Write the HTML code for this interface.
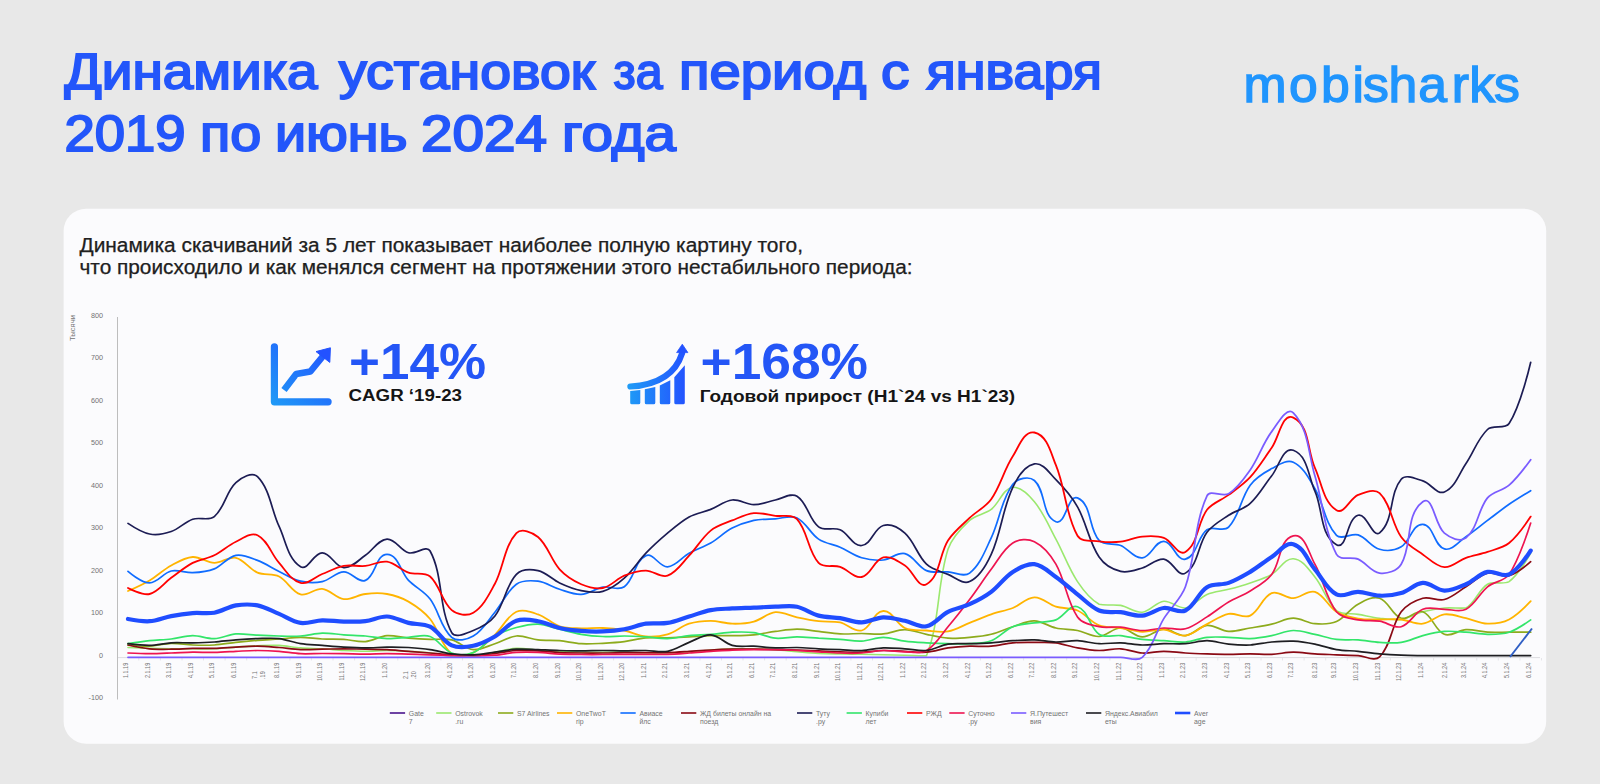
<!DOCTYPE html>
<html lang="ru"><head><meta charset="utf-8"><title>Динамика установок</title>
<style>html,body{margin:0;padding:0;background:#e8e8e8;}body{width:1600px;height:784px;overflow:hidden;}svg{display:block}text{font-family:"Liberation Sans",sans-serif}</style></head><body>
<svg width="1600" height="784" viewBox="0 0 1600 784">
<defs><linearGradient id="g1" x1="0" y1="1" x2="1" y2="0"><stop offset="0" stop-color="#1f9bf6"/><stop offset="1" stop-color="#2350ff"/></linearGradient>
<linearGradient id="g2" x1="0" y1="0" x2="1" y2="0"><stop offset="0" stop-color="#1f9bf6"/><stop offset="1" stop-color="#2350ff"/></linearGradient>
<linearGradient id="g3" gradientUnits="userSpaceOnUse" x1="1244" y1="0" x2="1518" y2="0"><stop offset="0" stop-color="#1e9af3"/><stop offset="1" stop-color="#2191fb"/></linearGradient><linearGradient id="g4" gradientUnits="userSpaceOnUse" x1="628" y1="0" x2="688" y2="0"><stop offset="0" stop-color="#1f9bf6"/><stop offset="1" stop-color="#2350ff"/></linearGradient><linearGradient id="g5" gradientUnits="userSpaceOnUse" x1="271" y1="405" x2="332" y2="344"><stop offset="0" stop-color="#1f9bf6"/><stop offset="1" stop-color="#2350ff"/></linearGradient></defs>
<rect width="1600" height="784" fill="#e8e8e8"/>
<rect x="63.6" y="208.7" width="1482.6" height="535" rx="22.5" ry="22.5" fill="#fbfbfd"/>
<g font-size="49.6" fill="#2356fa" stroke="#2356fa" stroke-width="1.9">
<text y="88.9"><tspan x="64.50" textLength="253.02" lengthAdjust="spacingAndGlyphs">Динамика</tspan> <tspan x="339.00" textLength="256.05" lengthAdjust="spacingAndGlyphs">установок</tspan> <tspan x="613.50" textLength="49.04" lengthAdjust="spacingAndGlyphs">за</tspan> <tspan x="679.00" textLength="187.24" lengthAdjust="spacingAndGlyphs">период</tspan> <tspan x="881.00" textLength="28.35" lengthAdjust="spacingAndGlyphs">с</tspan> <tspan x="926.60" textLength="175.41" lengthAdjust="spacingAndGlyphs">января</tspan></text>
<text y="151.3"><tspan x="64.50" textLength="121.09" lengthAdjust="spacingAndGlyphs">2019</tspan> <tspan x="200.00" textLength="61.24" lengthAdjust="spacingAndGlyphs">по</tspan> <tspan x="275.00" textLength="132.62" lengthAdjust="spacingAndGlyphs">июнь</tspan> <tspan x="421.00" textLength="126.02" lengthAdjust="spacingAndGlyphs">2024</tspan> <tspan x="562.00" textLength="114.04" lengthAdjust="spacingAndGlyphs">года</tspan></text>
</g>
<text transform="scale(1.0244,1)" x="1213.93 1258.32 1289.59 1320.26 1330.56 1355.40 1384.52 1417.10 1434.28 1458.54" y="102.2" font-size="50.5" fill="#2095fd" stroke="#2095fd" stroke-width="1.4">mobisharks</text>
<g font-size="19.4" fill="#202020" stroke="#202020" stroke-width="0.25">
<text x="79.5" y="251.7" textLength="723.5" lengthAdjust="spacingAndGlyphs">Динамика скачиваний за 5 лет показывает наиболее полную картину того,</text>
<text x="79.5" y="273.7" textLength="833" lengthAdjust="spacingAndGlyphs">что происходило и как менялся сегмент на протяжении этого нестабильного периода:</text></g>
<line x1="117.5" y1="317" x2="117.5" y2="699.5" stroke="#bdbdbd" stroke-width="1"/>
<line x1="118" y1="657.6" x2="1540" y2="657.6" stroke="#dcdce0" stroke-width="1"/>
<path d="M138.8,658v2.5M160.4,658v2.5M182.0,658v2.5M203.5,658v2.5M225.1,658v2.5M246.7,658v2.5M268.3,658v2.5M289.9,658v2.5M311.4,658v2.5M333.0,658v2.5M354.6,658v2.5M376.2,658v2.5M397.8,658v2.5M419.3,658v2.5M440.9,658v2.5M462.5,658v2.5M484.1,658v2.5M505.7,658v2.5M527.2,658v2.5M548.8,658v2.5M570.4,658v2.5M592.0,658v2.5M613.6,658v2.5M635.1,658v2.5M656.7,658v2.5M678.3,658v2.5M699.9,658v2.5M721.5,658v2.5M743.0,658v2.5M764.6,658v2.5M786.2,658v2.5M807.8,658v2.5M829.4,658v2.5M850.9,658v2.5M872.5,658v2.5M894.1,658v2.5M915.7,658v2.5M937.3,658v2.5M958.8,658v2.5M980.4,658v2.5M1002.0,658v2.5M1023.6,658v2.5M1045.2,658v2.5M1066.7,658v2.5M1088.3,658v2.5M1109.9,658v2.5M1131.5,658v2.5M1153.1,658v2.5M1174.6,658v2.5M1196.2,658v2.5M1217.8,658v2.5M1239.4,658v2.5M1261.0,658v2.5M1282.5,658v2.5M1304.1,658v2.5M1325.7,658v2.5M1347.3,658v2.5M1368.9,658v2.5M1390.4,658v2.5M1412.0,658v2.5M1433.6,658v2.5M1455.2,658v2.5M1476.8,658v2.5M1498.3,658v2.5M1519.9,658v2.5M1541.5,658v2.5" stroke="#e6e6ea" stroke-width="1" fill="none"/>
<g font-size="6.7" fill="#737373" text-anchor="end">
<text transform="translate(103,700.4) scale(1.08,1)">-100</text>
<text transform="translate(103,657.9) scale(1.08,1)">0</text>
<text transform="translate(103,615.4) scale(1.08,1)">100</text>
<text transform="translate(103,572.9) scale(1.08,1)">200</text>
<text transform="translate(103,530.4) scale(1.08,1)">300</text>
<text transform="translate(103,487.9) scale(1.08,1)">400</text>
<text transform="translate(103,445.4) scale(1.08,1)">500</text>
<text transform="translate(103,402.9) scale(1.08,1)">600</text>
<text transform="translate(103,360.4) scale(1.08,1)">700</text>
<text transform="translate(103,317.9) scale(1.08,1)">800</text>
</g>
<text transform="translate(74.8,341) rotate(-90)" font-size="7" fill="#737373" textLength="26" lengthAdjust="spacingAndGlyphs">Тысячи</text>
<g font-size="7.6" fill="#737373" text-anchor="end">
<text transform="translate(127.9,662.8) rotate(-90) scale(0.72,1)">1.1.19</text>
<text transform="translate(149.5,662.8) rotate(-90) scale(0.72,1)">2.1.19</text>
<text transform="translate(171.1,662.8) rotate(-90) scale(0.72,1)">3.1.19</text>
<text transform="translate(192.6,662.8) rotate(-90) scale(0.72,1)">4.1.19</text>
<text transform="translate(214.2,662.8) rotate(-90) scale(0.72,1)">5.1.19</text>
<text transform="translate(235.8,662.8) rotate(-90) scale(0.72,1)">6.1.19</text>
<text transform="translate(257.2,671.3) rotate(-90) scale(0.72,1)">7.1</text>
<text transform="translate(265.3,671.3) rotate(-90) scale(0.72,1)">.19</text>
<text transform="translate(279.0,662.8) rotate(-90) scale(0.72,1)">8.1.19</text>
<text transform="translate(300.5,662.8) rotate(-90) scale(0.72,1)">9.1.19</text>
<text transform="translate(322.1,662.8) rotate(-90) scale(0.72,1)">10.1.19</text>
<text transform="translate(343.7,662.8) rotate(-90) scale(0.72,1)">11.1.19</text>
<text transform="translate(365.3,662.8) rotate(-90) scale(0.72,1)">12.1.19</text>
<text transform="translate(386.9,662.8) rotate(-90) scale(0.72,1)">1.1.20</text>
<text transform="translate(408.2,671.3) rotate(-90) scale(0.72,1)">2.1</text>
<text transform="translate(416.3,671.3) rotate(-90) scale(0.72,1)">.20</text>
<text transform="translate(430.0,662.8) rotate(-90) scale(0.72,1)">3.1.20</text>
<text transform="translate(451.6,662.8) rotate(-90) scale(0.72,1)">4.1.20</text>
<text transform="translate(473.2,662.8) rotate(-90) scale(0.72,1)">5.1.20</text>
<text transform="translate(494.8,662.8) rotate(-90) scale(0.72,1)">6.1.20</text>
<text transform="translate(516.3,662.8) rotate(-90) scale(0.72,1)">7.1.20</text>
<text transform="translate(537.9,662.8) rotate(-90) scale(0.72,1)">8.1.20</text>
<text transform="translate(559.5,662.8) rotate(-90) scale(0.72,1)">9.1.20</text>
<text transform="translate(581.1,662.8) rotate(-90) scale(0.72,1)">10.1.20</text>
<text transform="translate(602.7,662.8) rotate(-90) scale(0.72,1)">11.1.20</text>
<text transform="translate(624.2,662.8) rotate(-90) scale(0.72,1)">12.1.20</text>
<text transform="translate(645.8,662.8) rotate(-90) scale(0.72,1)">1.1.21</text>
<text transform="translate(667.4,662.8) rotate(-90) scale(0.72,1)">2.1.21</text>
<text transform="translate(689.0,662.8) rotate(-90) scale(0.72,1)">3.1.21</text>
<text transform="translate(710.6,662.8) rotate(-90) scale(0.72,1)">4.1.21</text>
<text transform="translate(732.1,662.8) rotate(-90) scale(0.72,1)">5.1.21</text>
<text transform="translate(753.7,662.8) rotate(-90) scale(0.72,1)">6.1.21</text>
<text transform="translate(775.3,662.8) rotate(-90) scale(0.72,1)">7.1.21</text>
<text transform="translate(796.9,662.8) rotate(-90) scale(0.72,1)">8.1.21</text>
<text transform="translate(818.5,662.8) rotate(-90) scale(0.72,1)">9.1.21</text>
<text transform="translate(840.0,662.8) rotate(-90) scale(0.72,1)">10.1.21</text>
<text transform="translate(861.6,662.8) rotate(-90) scale(0.72,1)">11.1.21</text>
<text transform="translate(883.2,662.8) rotate(-90) scale(0.72,1)">12.1.21</text>
<text transform="translate(904.8,662.8) rotate(-90) scale(0.72,1)">1.1.22</text>
<text transform="translate(926.4,662.8) rotate(-90) scale(0.72,1)">2.1.22</text>
<text transform="translate(947.9,662.8) rotate(-90) scale(0.72,1)">3.1.22</text>
<text transform="translate(969.5,662.8) rotate(-90) scale(0.72,1)">4.1.22</text>
<text transform="translate(991.1,662.8) rotate(-90) scale(0.72,1)">5.1.22</text>
<text transform="translate(1012.7,662.8) rotate(-90) scale(0.72,1)">6.1.22</text>
<text transform="translate(1034.3,662.8) rotate(-90) scale(0.72,1)">7.1.22</text>
<text transform="translate(1055.8,662.8) rotate(-90) scale(0.72,1)">8.1.22</text>
<text transform="translate(1077.4,662.8) rotate(-90) scale(0.72,1)">9.1.22</text>
<text transform="translate(1099.0,662.8) rotate(-90) scale(0.72,1)">10.1.22</text>
<text transform="translate(1120.6,662.8) rotate(-90) scale(0.72,1)">11.1.22</text>
<text transform="translate(1142.2,662.8) rotate(-90) scale(0.72,1)">12.1.22</text>
<text transform="translate(1163.7,662.8) rotate(-90) scale(0.72,1)">1.1.23</text>
<text transform="translate(1185.3,662.8) rotate(-90) scale(0.72,1)">2.1.23</text>
<text transform="translate(1206.9,662.8) rotate(-90) scale(0.72,1)">3.1.23</text>
<text transform="translate(1228.5,662.8) rotate(-90) scale(0.72,1)">4.1.23</text>
<text transform="translate(1250.1,662.8) rotate(-90) scale(0.72,1)">5.1.23</text>
<text transform="translate(1271.6,662.8) rotate(-90) scale(0.72,1)">6.1.23</text>
<text transform="translate(1293.2,662.8) rotate(-90) scale(0.72,1)">7.1.23</text>
<text transform="translate(1317.3,662.8) rotate(-90) scale(0.72,1)">8.1.23</text>
<text transform="translate(1336.4,662.8) rotate(-90) scale(0.72,1)">9.1.23</text>
<text transform="translate(1358.0,662.8) rotate(-90) scale(0.72,1)">10.1.23</text>
<text transform="translate(1379.5,662.8) rotate(-90) scale(0.72,1)">11.1.23</text>
<text transform="translate(1401.1,662.8) rotate(-90) scale(0.72,1)">12.1.23</text>
<text transform="translate(1422.7,662.8) rotate(-90) scale(0.72,1)">1.1.24</text>
<text transform="translate(1447.3,662.8) rotate(-90) scale(0.72,1)">2.1.24</text>
<text transform="translate(1465.9,662.8) rotate(-90) scale(0.72,1)">3.1.24</text>
<text transform="translate(1487.4,662.8) rotate(-90) scale(0.72,1)">4.1.24</text>
<text transform="translate(1509.0,662.8) rotate(-90) scale(0.72,1)">5.1.24</text>
<text transform="translate(1530.6,662.8) rotate(-90) scale(0.72,1)">6.1.24</text>
</g>
<g fill="none" stroke-linecap="round" stroke-linejoin="round">
<path d="M128.0,647.5 C128.0,647.5 142.4,648.2 149.6,648.4 C156.8,648.6 164.0,648.7 171.2,648.8 C178.4,648.9 185.5,648.8 192.7,648.8 C199.9,648.8 207.1,649.1 214.3,648.8 C221.5,648.5 228.7,647.6 235.9,647.1 C243.1,646.6 250.3,646.1 257.5,645.8 C264.7,645.5 271.9,645.0 279.1,645.4 C286.3,645.8 293.4,647.4 300.6,647.9 C307.8,648.5 315.0,648.4 322.2,648.8 C329.4,649.2 336.6,650.1 343.8,650.5 C351.0,650.9 358.2,651.3 365.4,651.3 C372.6,651.3 379.8,650.5 387.0,650.5 C394.2,650.5 401.4,650.9 408.5,651.3 C415.7,651.8 423.0,652.2 430.1,653.0 C437.4,653.9 444.4,655.8 451.7,656.4 C458.9,657.1 466.1,657.5 473.3,656.9 C480.6,656.2 487.6,653.6 494.9,652.2 C502.0,650.8 509.1,648.7 516.4,648.4 C523.6,648.0 530.8,649.6 538.0,650.1 C545.2,650.6 552.4,651.0 559.6,651.3 C566.8,651.7 574.0,652.1 581.2,652.2 C588.4,652.3 595.6,652.2 602.8,652.2 C610.0,652.2 617.1,652.1 624.3,652.2 C631.5,652.3 638.7,652.9 645.9,653.0 C653.1,653.2 660.3,653.2 667.5,653.0 C674.7,652.9 681.9,652.7 689.1,652.2 C696.3,651.7 703.5,650.6 710.7,650.1 C717.8,649.5 725.0,649.0 732.2,648.8 C739.4,648.6 746.6,648.7 753.8,648.8 C761.0,648.9 768.2,649.2 775.4,649.6 C782.6,650.1 789.8,651.1 797.0,651.8 C804.2,652.4 811.4,653.1 818.6,653.5 C825.7,653.8 832.9,653.8 840.1,653.9 C847.3,654.0 854.5,654.2 861.7,654.3 C868.9,654.5 876.1,654.6 883.3,654.8 C890.5,654.9 897.7,655.0 904.9,655.2 C912.1,655.3 923.7,656.2 926.5,655.6 C940.1,622.1 937.0,583.8 948.0,549.3 C951.7,537.9 960.8,528.6 969.6,520.4 C975.6,515.0 984.8,514.3 991.2,509.4 C999.4,503.1 1002.6,489.1 1012.8,487.3 C1021.3,486.7 1028.8,495.1 1034.4,501.8 C1043.6,512.8 1049.1,526.5 1055.9,539.1 C1063.5,553.1 1068.7,568.4 1077.5,581.6 C1083.3,590.3 1090.0,599.2 1099.1,604.2 C1105.4,606.0 1113.6,604.1 1120.7,605.4 C1128.1,606.8 1134.8,612.9 1142.3,612.2 C1150.3,611.5 1155.8,602.0 1163.8,601.2 C1171.3,600.6 1178.0,608.6 1185.4,608.0 C1193.8,606.7 1199.2,597.8 1207.0,594.4 C1213.8,591.5 1221.4,591.2 1228.6,589.3 C1235.8,587.4 1243.1,585.4 1250.2,582.9 C1257.5,580.4 1265.0,578.2 1271.7,574.4 C1279.5,570.1 1284.4,558.2 1293.3,558.7 C1302.7,559.3 1308.9,569.7 1314.9,577.0 C1323.4,587.2 1326.4,601.8 1336.5,610.5 C1342.0,615.0 1350.9,613.1 1358.1,614.4 C1365.3,615.6 1372.4,617.3 1379.6,618.2 C1386.8,619.0 1394.1,620.1 1401.2,619.5 C1408.8,618.4 1415.4,613.8 1422.8,611.8 C1429.9,609.9 1437.1,608.6 1444.4,608.0 C1451.5,607.4 1459.7,608.6 1466.0,608.0 C1475.3,602.8 1478.4,589.8 1487.5,584.2 C1493.7,581.0 1503.2,584.8 1509.1,581.6 C1518.8,574.7 1530.7,553.2 1530.7,553.2" stroke="#9be86e" stroke-width="1.6"/>
<path d="M128.0,645.0 C128.0,645.0 142.4,646.5 149.6,646.2 C156.8,646.0 163.9,643.5 171.2,643.3 C178.4,643.1 185.5,644.7 192.7,645.0 C199.9,645.3 207.1,645.4 214.3,645.0 C221.6,644.5 228.7,643.2 235.9,642.4 C243.1,641.6 250.3,640.9 257.5,640.3 C264.7,639.7 271.9,639.5 279.1,639.0 C286.3,638.5 293.4,637.3 300.6,637.3 C307.9,637.3 315.0,638.7 322.2,639.0 C329.4,639.4 336.6,639.0 343.8,639.4 C351.0,639.9 358.2,642.2 365.4,641.6 C372.8,640.9 379.5,636.2 387.0,635.6 C394.2,635.1 401.3,637.5 408.5,638.2 C415.7,638.8 422.9,639.2 430.1,639.4 C437.3,639.7 444.7,638.2 451.7,639.9 C459.4,641.7 465.4,649.0 473.3,649.6 C480.7,650.3 487.7,645.9 494.9,643.7 C502.1,641.4 508.8,636.7 516.4,636.0 C523.7,635.4 530.8,639.1 538.0,639.9 C545.2,640.7 552.4,640.1 559.6,640.7 C566.8,641.4 573.9,643.3 581.2,643.7 C588.4,644.1 595.6,643.6 602.8,643.3 C610.0,642.9 617.2,642.5 624.3,641.6 C631.6,640.6 638.6,638.4 645.9,637.8 C653.1,637.1 660.3,637.9 667.5,637.8 C674.7,637.6 681.9,637.3 689.1,636.9 C696.3,636.5 703.5,635.8 710.7,635.6 C717.9,635.4 725.0,635.8 732.2,635.6 C739.4,635.5 746.7,635.5 753.8,634.8 C761.1,634.1 768.2,632.3 775.4,631.4 C782.6,630.5 789.8,629.2 797.0,629.2 C804.2,629.2 811.4,630.6 818.6,631.4 C825.8,632.2 832.9,633.6 840.1,633.9 C847.3,634.3 854.5,633.5 861.7,633.5 C868.9,633.5 876.1,634.6 883.3,633.9 C890.6,633.3 897.5,629.6 904.9,629.7 C912.2,629.7 919.2,632.9 926.5,634.3 C933.6,635.8 940.8,637.7 948.0,638.2 C955.2,638.7 962.4,638.0 969.6,637.3 C976.9,636.7 984.1,636.1 991.2,634.3 C998.6,632.5 1005.5,629.0 1012.8,626.7 C1019.9,624.5 1026.9,620.5 1034.4,620.8 C1041.9,621.0 1048.5,626.3 1055.9,628.0 C1063.0,629.6 1070.4,629.1 1077.5,630.5 C1084.8,632.0 1091.7,636.9 1099.1,636.5 C1106.8,636.0 1112.9,627.9 1120.7,628.0 C1128.5,628.1 1134.5,636.7 1142.3,636.9 C1149.9,637.1 1156.2,629.5 1163.8,629.2 C1171.3,629.0 1177.9,636.3 1185.4,635.6 C1193.3,634.9 1199.1,626.2 1207.0,625.4 C1214.4,624.7 1221.1,630.9 1228.6,631.4 C1235.8,631.8 1243.0,629.2 1250.2,628.0 C1257.4,626.8 1264.6,625.8 1271.7,624.1 C1279.0,622.5 1285.9,618.3 1293.3,618.2 C1300.7,618.1 1307.5,623.1 1314.9,623.7 C1322.1,624.3 1329.9,624.6 1336.5,621.6 C1344.9,617.8 1349.9,608.6 1358.1,604.2 C1364.6,600.6 1372.5,595.9 1379.6,598.2 C1389.0,601.3 1391.9,615.3 1401.2,618.2 C1408.4,620.5 1415.8,609.2 1422.8,611.8 C1432.5,615.5 1434.8,630.4 1444.4,634.3 C1451.2,637.2 1458.6,630.0 1466.0,629.7 C1473.2,629.3 1480.3,631.8 1487.5,632.2 C1494.7,632.6 1501.9,632.2 1509.1,632.2 C1516.3,632.2 1530.7,632.2 1530.7,632.2" stroke="#8dab1c" stroke-width="1.7"/>
<path d="M128.0,591.0 C128.0,591.0 142.7,584.5 149.6,580.4 C157.1,575.9 163.5,569.7 171.2,565.5 C178.0,561.8 185.0,557.5 192.7,557.0 C200.2,556.6 206.9,562.8 214.3,562.9 C221.7,563.1 228.7,556.2 235.9,557.8 C244.4,559.8 249.5,569.3 257.5,572.7 C264.2,575.6 272.5,573.3 279.1,576.5 C287.4,580.7 291.7,591.8 300.6,594.4 C307.8,596.4 314.8,588.1 322.2,588.9 C330.1,589.7 335.9,598.1 343.8,599.1 C351.1,599.9 358.0,594.8 365.4,594.0 C372.5,593.1 379.9,592.7 387.0,594.0 C394.5,595.3 401.9,597.8 408.5,601.6 C416.5,606.3 424.2,611.9 430.1,619.0 C438.8,629.6 440.9,645.5 451.7,653.9 C457.4,658.3 466.7,655.5 473.3,652.6 C481.8,648.8 488.1,641.2 494.9,634.8 C502.5,627.6 506.9,616.3 516.4,611.8 C523.0,608.7 531.2,612.1 538.0,614.4 C545.8,617.0 551.8,623.7 559.6,626.3 C566.5,628.5 574.0,628.1 581.2,628.4 C588.4,628.7 595.6,627.6 602.8,628.0 C610.0,628.3 617.2,629.1 624.3,630.5 C631.7,632.0 638.5,635.8 645.9,636.5 C653.1,637.1 660.6,636.4 667.5,634.3 C675.2,632.1 681.4,626.1 689.1,623.7 C696.0,621.5 703.4,620.8 710.7,620.8 C717.9,620.8 725.0,623.6 732.2,623.7 C739.5,623.9 746.8,623.5 753.8,621.6 C761.4,619.6 767.6,613.0 775.4,612.2 C782.8,611.5 789.7,615.9 797.0,617.3 C804.1,618.8 811.3,620.3 818.6,621.2 C825.7,622.0 833.1,620.9 840.1,622.4 C847.6,624.1 854.3,632.5 861.7,630.5 C871.1,628.0 873.6,611.5 883.3,611.0 C892.4,610.4 896.5,624.2 904.9,628.0 C911.5,631.0 919.2,630.0 926.5,630.5 C933.6,631.1 941.0,632.6 948.0,631.4 C955.7,630.0 962.4,625.7 969.6,622.9 C976.8,620.0 983.9,616.9 991.2,614.4 C998.3,611.9 1005.8,610.7 1012.8,608.0 C1020.2,605.1 1026.3,597.6 1034.4,597.4 C1042.2,597.1 1048.4,604.4 1055.9,606.7 C1062.9,608.9 1070.8,607.6 1077.5,610.5 C1085.5,614.0 1091.0,622.2 1099.1,625.4 C1105.8,628.1 1113.5,626.9 1120.7,628.0 C1127.9,629.0 1135.0,631.5 1142.3,631.8 C1149.5,632.1 1156.6,629.0 1163.8,629.7 C1171.3,630.3 1178.0,636.6 1185.4,635.6 C1193.5,634.6 1199.7,627.8 1207.0,624.1 C1214.1,620.6 1220.8,615.5 1228.6,613.9 C1235.7,612.6 1243.7,618.8 1250.2,615.6 C1259.5,611.1 1262.1,597.0 1271.7,593.1 C1278.6,590.4 1285.9,598.4 1293.3,598.2 C1300.8,598.0 1307.7,589.6 1314.9,591.8 C1324.2,594.8 1328.2,606.7 1336.5,611.8 C1342.9,615.8 1350.6,617.3 1358.1,618.6 C1365.1,619.9 1372.4,619.3 1379.6,619.5 C1386.8,619.6 1394.1,618.8 1401.2,619.5 C1408.5,620.2 1415.5,624.6 1422.8,623.7 C1430.6,622.8 1436.6,615.4 1444.4,614.4 C1451.6,613.4 1458.8,616.7 1466.0,618.2 C1473.2,619.8 1480.1,623.5 1487.5,623.7 C1494.9,623.9 1502.6,622.9 1509.1,619.5 C1517.5,615.1 1530.7,601.2 1530.7,601.2" stroke="#ffb400" stroke-width="1.8"/>
<path d="M128.0,571.4 C128.0,571.4 141.4,583.0 149.6,582.9 C157.8,582.8 163.2,572.9 171.2,571.0 C178.2,569.4 185.5,573.1 192.7,572.7 C200.0,572.4 207.5,571.6 214.3,568.9 C222.2,565.7 227.6,556.9 235.9,555.3 C243.2,553.9 250.6,557.8 257.5,560.4 C265.0,563.2 271.8,567.9 279.1,571.4 C286.2,574.9 293.0,579.4 300.6,581.2 C307.6,582.9 315.2,583.2 322.2,581.6 C329.9,580.0 335.9,572.1 343.8,571.9 C351.5,571.6 358.2,583.3 365.4,580.4 C375.8,576.2 375.7,554.4 387.0,554.4 C398.2,554.4 400.7,572.3 408.5,580.4 C415.2,587.2 424.4,591.5 430.1,599.1 C439.0,610.7 440.6,627.8 451.7,637.3 C457.2,642.0 467.0,639.7 473.3,636.0 C482.5,630.7 488.0,620.5 494.9,612.2 C502.4,603.2 506.9,591.1 516.4,584.2 C522.3,580.0 530.8,580.4 538.0,581.2 C545.6,582.1 552.3,587.1 559.6,589.3 C566.7,591.5 573.8,594.8 581.2,594.4 C588.8,594.0 595.3,588.5 602.8,587.2 C609.8,585.9 618.5,591.0 624.3,586.8 C634.5,579.3 634.5,561.0 645.9,555.7 C653.3,552.3 659.4,567.3 667.5,566.8 C676.0,566.3 681.6,557.3 689.1,553.2 C696.0,549.3 703.8,547.0 710.7,543.0 C718.2,538.6 724.5,532.1 732.2,528.1 C739.0,524.6 746.4,522.1 753.8,520.4 C760.9,518.9 768.2,519.2 775.4,518.8 C782.6,518.3 790.5,514.8 797.0,517.9 C806.1,522.2 810.2,533.5 818.6,539.1 C824.9,543.5 833.1,544.2 840.1,547.2 C847.5,550.4 854.0,555.6 861.7,557.8 C868.7,559.9 876.1,560.7 883.3,560.0 C890.8,559.2 897.6,551.8 904.9,553.6 C913.8,555.8 918.0,567.0 926.5,570.6 C933.1,573.4 940.8,571.4 948.0,571.9 C955.2,572.3 964.0,577.6 969.6,573.1 C980.4,564.6 985.2,550.3 991.2,537.9 C999.6,520.6 1001.2,499.7 1012.8,484.3 C1017.2,478.5 1028.8,475.7 1034.4,480.5 C1046.1,490.7 1041.6,515.9 1055.9,521.7 C1065.9,525.7 1067.7,493.7 1077.5,497.9 C1092.1,504.2 1088.4,528.7 1099.1,540.4 C1104.1,545.9 1113.8,542.8 1120.7,545.5 C1128.4,548.6 1134.0,558.7 1142.3,557.8 C1151.3,557.0 1154.8,541.0 1163.8,541.3 C1173.2,541.6 1176.4,561.5 1185.4,559.1 C1197.1,556.0 1197.2,537.0 1207.0,529.8 C1212.8,525.5 1223.5,532.5 1228.6,527.2 C1239.5,515.9 1240.8,497.9 1250.2,485.2 C1255.5,477.9 1263.7,472.9 1271.7,468.6 C1278.4,465.1 1286.5,459.1 1293.3,462.2 C1303.6,467.0 1309.1,478.8 1314.9,488.6 C1323.6,503.4 1324.8,522.8 1336.5,535.3 C1341.4,540.6 1351.2,532.7 1358.1,534.9 C1366.3,537.6 1371.3,547.0 1379.6,549.3 C1386.6,551.3 1395.0,550.4 1401.2,546.8 C1410.2,541.6 1412.4,523.8 1422.8,524.3 C1433.7,524.8 1433.9,545.9 1444.4,548.9 C1452.3,551.2 1459.0,541.2 1466.0,536.6 C1473.5,531.7 1480.3,525.8 1487.5,520.4 C1494.7,515.1 1501.7,509.4 1509.1,504.3 C1516.1,499.5 1530.7,490.7 1530.7,490.7" stroke="#0f6cff" stroke-width="1.7"/>
<path d="M128.0,645.0 C128.0,645.0 142.3,648.1 149.6,648.8 C156.7,649.5 164.0,649.3 171.2,649.2 C178.4,649.2 185.5,648.5 192.7,648.4 C199.9,648.2 207.1,648.6 214.3,648.4 C221.5,648.2 228.7,647.5 235.9,647.1 C243.1,646.7 250.3,646.2 257.5,646.2 C264.7,646.3 271.9,647.0 279.1,647.5 C286.3,648.1 293.4,649.4 300.6,649.6 C307.8,649.9 315.0,649.4 322.2,649.2 C329.4,649.1 336.6,648.8 343.8,648.8 C351.0,648.8 358.2,649.1 365.4,649.2 C372.6,649.4 379.8,649.3 387.0,649.6 C394.2,650.0 401.3,650.8 408.5,651.3 C415.7,651.9 422.9,652.5 430.1,653.0 C437.3,653.6 444.5,654.4 451.7,654.8 C458.9,655.1 466.1,655.4 473.3,655.2 C480.5,655.0 487.7,654.3 494.9,653.5 C502.1,652.7 509.2,650.9 516.4,650.5 C523.6,650.1 530.8,650.6 538.0,650.9 C545.2,651.3 552.4,652.3 559.6,652.6 C566.8,653.0 574.0,653.0 581.2,653.0 C588.4,653.1 595.6,653.1 602.8,653.0 C610.0,653.0 617.1,652.7 624.3,652.6 C631.5,652.6 638.7,652.6 645.9,652.6 C653.1,652.6 660.3,652.8 667.5,652.6 C674.7,652.4 681.9,651.8 689.1,651.3 C696.3,650.9 703.5,650.4 710.7,650.1 C717.9,649.7 725.0,649.4 732.2,649.2 C739.4,649.1 746.6,649.2 753.8,649.2 C761.0,649.3 768.2,649.5 775.4,649.6 C782.6,649.8 789.8,649.9 797.0,650.1 C804.2,650.3 811.4,650.6 818.6,650.9 C825.8,651.2 832.9,651.6 840.1,651.8 C847.3,652.0 854.5,652.4 861.7,652.2 C868.9,652.0 876.1,650.6 883.3,650.5 C890.5,650.4 897.7,651.1 904.9,651.3 C912.1,651.6 919.3,652.8 926.5,652.2 C933.8,651.6 940.8,649.0 948.0,647.9 C955.2,647.0 962.4,646.5 969.6,646.2 C976.8,646.0 984.0,646.8 991.2,646.2 C998.5,645.7 1005.5,643.5 1012.8,642.8 C1019.9,642.2 1027.2,642.4 1034.4,642.4 C1041.6,642.4 1048.8,641.9 1055.9,642.8 C1063.3,643.8 1070.2,646.7 1077.5,647.9 C1084.7,649.2 1091.9,650.4 1099.1,650.5 C1106.3,650.6 1113.5,648.4 1120.7,648.8 C1128.0,649.2 1134.9,652.6 1142.3,653.0 C1149.5,653.5 1156.6,651.3 1163.8,651.3 C1171.1,651.3 1178.2,652.6 1185.4,653.0 C1192.6,653.5 1199.8,653.7 1207.0,653.9 C1214.2,654.1 1221.4,654.3 1228.6,654.3 C1235.8,654.3 1243.0,653.9 1250.2,653.9 C1257.4,653.9 1264.6,654.6 1271.7,654.3 C1279.0,654.0 1286.1,652.3 1293.3,652.2 C1300.5,652.1 1307.7,653.5 1314.9,653.9 C1322.1,654.3 1329.3,654.5 1336.5,654.8 C1343.7,655.0 1350.9,655.2 1358.1,655.6 C1365.3,656.0 1374.6,662.0 1379.6,656.9 C1391.3,645.0 1391.4,625.2 1401.2,611.8 C1406.3,605.0 1414.6,600.6 1422.8,598.2 C1429.7,596.2 1437.4,601.4 1444.4,599.5 C1452.5,597.4 1458.8,591.1 1466.0,586.8 C1473.2,582.3 1479.3,575.3 1487.5,573.1 C1494.6,571.4 1502.1,577.6 1509.1,575.7 C1517.4,573.5 1530.7,561.7 1530.7,561.7" stroke="#8a0a14" stroke-width="1.7"/>
<path d="M128.0,523.4 C128.0,523.4 141.7,532.6 149.6,534.0 C156.7,535.4 164.3,533.9 171.2,531.5 C179.0,528.8 184.9,521.9 192.7,519.2 C199.6,516.8 208.8,521.3 214.3,516.6 C224.6,508.0 226.0,491.7 235.9,482.6 C241.4,477.6 252.2,471.4 257.5,476.7 C270.2,489.5 271.3,510.1 279.1,526.4 C285.7,540.2 287.6,558.8 300.6,566.8 C308.0,571.2 313.6,552.6 322.2,552.8 C331.0,552.9 335.1,567.1 343.8,567.6 C352.1,568.1 358.5,559.9 365.4,555.3 C372.9,550.4 378.0,539.7 387.0,539.1 C395.4,538.6 400.3,550.5 408.5,552.8 C415.5,554.7 426.7,544.7 430.1,551.0 C443.5,575.8 438.3,607.9 451.7,632.6 C455.1,639.0 466.5,633.1 473.3,630.5 C481.4,627.4 489.6,622.9 494.9,616.1 C504.4,603.7 505.7,585.8 516.4,574.4 C521.5,569.1 530.9,569.2 538.0,570.6 C546.1,572.2 552.1,579.4 559.6,582.9 C566.5,586.1 573.7,589.1 581.2,590.6 C588.2,592.0 595.8,593.4 602.8,591.4 C610.9,589.1 618.0,583.8 624.3,578.2 C632.6,570.9 638.3,561.1 645.9,553.2 C652.7,546.1 660.0,539.5 667.5,533.2 C674.4,527.4 681.2,521.4 689.1,517.0 C695.8,513.4 703.6,512.2 710.7,509.4 C718.0,506.5 724.4,500.9 732.2,500.0 C739.6,499.3 746.5,504.7 753.8,504.7 C761.2,504.7 768.2,501.5 775.4,500.0 C782.6,498.6 790.8,492.4 797.0,496.2 C807.6,502.8 808.7,519.2 818.6,526.8 C824.3,531.3 833.5,526.9 840.1,529.8 C848.3,533.3 852.9,546.4 861.7,545.5 C871.5,544.6 873.9,528.2 883.3,525.5 C890.6,523.5 899.2,528.1 904.9,533.2 C914.3,541.6 917.4,555.5 926.5,564.2 C932.2,569.7 940.7,571.4 948.0,574.4 C955.1,577.3 962.7,584.8 969.6,581.6 C980.1,576.8 986.4,565.0 991.2,554.4 C1001.0,533.1 1002.7,508.5 1012.8,487.3 C1017.3,477.7 1023.9,465.8 1034.4,463.9 C1043.1,462.4 1049.6,473.4 1055.9,479.6 C1064.1,487.8 1071.9,496.7 1077.5,506.8 C1086.4,522.7 1089.0,541.9 1099.1,557.0 C1103.9,564.2 1112.3,569.3 1120.7,571.4 C1127.7,573.3 1135.3,570.0 1142.3,568.0 C1149.7,565.9 1156.1,558.2 1163.8,559.1 C1172.4,560.1 1178.1,577.7 1185.4,573.1 C1198.5,565.0 1197.8,544.7 1207.0,532.3 C1212.5,525.0 1221.0,520.4 1228.6,515.3 C1235.4,510.8 1244.1,509.0 1250.2,503.4 C1258.8,495.6 1264.4,484.9 1271.7,475.8 C1278.8,467.2 1282.8,446.6 1293.3,450.3 C1307.8,455.5 1308.5,477.1 1314.9,491.1 C1322.9,508.6 1319.7,535.3 1336.5,544.7 C1347.1,550.6 1346.4,518.6 1358.1,515.3 C1367.0,512.9 1372.6,538.7 1379.6,532.8 C1394.4,520.4 1388.9,494.0 1401.2,479.2 C1405.8,473.7 1415.9,478.9 1422.8,480.9 C1430.6,483.2 1436.9,495.0 1444.4,492.0 C1455.4,487.5 1459.2,473.3 1466.0,463.5 C1473.6,452.5 1477.7,438.6 1487.5,429.5 C1493.0,424.4 1505.1,429.8 1509.1,423.5 C1520.8,405.4 1530.7,362.3 1530.7,362.3" stroke="#1c1c54" stroke-width="1.7"/>
<path d="M128.0,643.7 C128.0,643.7 142.4,641.5 149.6,640.7 C156.8,639.9 164.0,639.9 171.2,639.0 C178.4,638.2 185.5,635.7 192.7,635.6 C200.0,635.6 207.1,638.9 214.3,638.6 C221.7,638.3 228.6,634.5 235.9,633.9 C243.1,633.4 250.3,634.8 257.5,635.2 C264.7,635.6 271.9,635.9 279.1,636.0 C286.3,636.2 293.5,636.5 300.6,636.0 C307.9,635.6 315.0,633.3 322.2,633.1 C329.4,632.9 336.6,634.3 343.8,634.8 C351.0,635.3 358.2,635.4 365.4,636.0 C372.6,636.7 379.7,638.4 387.0,638.6 C394.2,638.8 401.3,637.7 408.5,637.3 C415.7,637.0 423.4,634.0 430.1,636.5 C438.6,639.6 443.2,649.9 451.7,653.0 C458.4,655.6 466.6,655.3 473.3,652.6 C481.7,649.3 487.0,640.6 494.9,636.0 C501.5,632.2 509.0,629.6 516.4,627.5 C523.5,625.6 530.7,623.9 538.0,624.1 C545.4,624.4 552.4,627.6 559.6,629.2 C566.8,631.0 573.9,633.1 581.2,634.3 C588.3,635.5 595.5,636.2 602.8,636.5 C609.9,636.8 617.1,636.0 624.3,636.0 C631.5,636.1 638.7,636.5 645.9,636.9 C653.1,637.3 660.3,638.8 667.5,638.6 C674.8,638.4 681.9,636.3 689.1,635.6 C696.3,634.9 703.5,634.9 710.7,634.3 C717.9,633.8 725.0,632.5 732.2,632.2 C739.4,631.9 746.7,631.7 753.8,632.6 C761.2,633.7 768.0,637.4 775.4,638.2 C782.6,638.9 789.8,636.9 797.0,636.9 C804.2,636.9 811.4,637.8 818.6,638.2 C825.8,638.6 833.0,639.0 840.1,639.4 C847.3,639.9 854.5,641.5 861.7,641.1 C869.0,640.8 876.0,637.3 883.3,637.3 C890.6,637.3 897.6,640.2 904.9,641.1 C912.0,642.1 919.3,642.4 926.5,642.8 C933.6,643.3 940.8,643.6 948.0,643.7 C955.2,643.8 962.4,644.2 969.6,643.7 C976.9,643.2 984.4,643.4 991.2,640.7 C999.2,637.6 1004.9,630.0 1012.8,626.7 C1019.5,623.9 1027.1,624.0 1034.4,622.9 C1041.5,621.7 1049.1,622.4 1055.9,619.9 C1063.8,616.9 1069.5,604.0 1077.5,606.7 C1088.6,610.4 1089.4,627.8 1099.1,634.3 C1105.1,638.4 1113.5,634.8 1120.7,635.6 C1127.9,636.5 1135.0,638.6 1142.3,639.4 C1149.4,640.3 1156.6,640.3 1163.8,640.7 C1171.0,641.1 1178.2,642.6 1185.4,642.0 C1192.8,641.4 1199.7,638.1 1207.0,637.3 C1214.2,636.6 1221.4,637.1 1228.6,637.3 C1235.8,637.5 1243.0,638.9 1250.2,638.6 C1257.4,638.3 1264.6,637.0 1271.7,635.6 C1279.0,634.3 1285.9,630.7 1293.3,630.5 C1300.6,630.3 1307.7,632.9 1314.9,634.3 C1322.1,635.8 1329.1,638.5 1336.5,639.4 C1343.6,640.4 1350.9,639.4 1358.1,639.9 C1365.3,640.4 1372.4,642.0 1379.6,642.4 C1386.8,642.8 1394.1,643.5 1401.2,642.4 C1408.7,641.3 1415.5,637.5 1422.8,635.6 C1429.9,633.8 1437.1,632.0 1444.4,631.4 C1451.6,630.8 1458.8,631.7 1466.0,632.2 C1473.2,632.7 1480.3,634.3 1487.5,634.3 C1494.8,634.3 1502.3,634.5 1509.1,632.2 C1517.0,629.6 1530.7,619.9 1530.7,619.9" stroke="#33e56a" stroke-width="1.7"/>
<path d="M128.0,588.0 C128.0,588.0 142.3,595.7 149.6,594.0 C158.3,591.9 163.9,583.1 171.2,577.8 C178.3,572.7 185.0,567.0 192.7,562.9 C199.5,559.4 207.5,558.7 214.3,555.3 C221.9,551.5 228.2,545.3 235.9,541.7 C242.7,538.5 250.8,532.0 257.5,535.3 C268.0,540.5 271.2,554.3 279.1,562.9 C285.6,570.2 291.1,580.5 300.6,582.9 C308.2,584.9 315.0,576.9 322.2,574.0 C329.4,571.2 336.3,567.3 343.8,565.9 C350.9,564.6 358.2,566.6 365.4,565.9 C372.7,565.2 379.7,560.5 387.0,561.7 C394.9,562.9 400.9,570.1 408.5,572.7 C415.4,575.1 424.6,571.8 430.1,576.5 C440.2,585.3 441.5,601.6 451.7,610.1 C457.3,614.8 467.1,616.4 473.3,612.7 C483.5,606.4 489.1,594.3 494.9,583.8 C503.6,567.7 504.0,546.7 516.4,533.2 C521.4,527.8 532.4,532.3 538.0,537.0 C547.9,545.3 550.9,559.8 559.6,569.3 C565.5,575.8 573.2,580.7 581.2,584.2 C587.9,587.1 595.6,589.4 602.8,588.0 C610.9,586.4 616.7,578.8 624.3,575.7 C631.2,572.9 638.5,570.6 645.9,570.6 C653.3,570.6 660.5,578.1 667.5,575.7 C676.8,572.5 682.3,562.8 689.1,555.7 C696.7,547.8 702.1,537.6 710.7,530.6 C716.8,525.6 724.9,523.4 732.2,520.4 C739.3,517.6 746.3,514.0 753.8,513.2 C761.0,512.4 768.2,514.8 775.4,515.8 C782.6,516.8 792.1,513.8 797.0,519.2 C808.0,531.2 807.6,550.9 818.6,562.9 C823.5,568.4 833.2,564.5 840.1,566.8 C847.7,569.2 853.9,578.7 861.7,577.0 C871.2,574.9 873.9,559.9 883.3,557.4 C890.7,555.5 898.4,561.5 904.9,565.5 C913.0,570.5 918.2,589.0 926.5,584.2 C940.5,576.0 939.2,554.1 948.0,540.4 C953.7,531.7 962.1,525.1 969.6,517.9 C976.5,511.3 985.7,507.0 991.2,499.2 C1000.4,486.1 1004.1,469.7 1012.8,456.3 C1018.6,447.3 1023.9,430.3 1034.4,432.5 C1047.2,435.1 1050.9,453.1 1055.9,465.2 C1065.4,487.9 1065.4,514.4 1077.5,535.8 C1081.2,542.2 1091.7,540.3 1099.1,541.3 C1106.2,542.3 1113.5,542.5 1120.7,541.7 C1128.0,540.9 1134.9,537.3 1142.3,536.6 C1149.4,536.0 1157.0,535.5 1163.8,537.9 C1171.9,540.7 1178.2,556.6 1185.4,551.9 C1198.6,543.3 1197.5,522.4 1207.0,509.8 C1212.3,502.9 1221.6,500.2 1228.6,494.9 C1236.0,489.3 1243.9,484.0 1250.2,477.1 C1258.4,468.1 1264.6,457.6 1271.7,447.8 C1279.0,437.8 1282.1,412.4 1293.3,417.6 C1309.8,425.2 1307.2,451.3 1314.9,467.8 C1321.6,482.2 1323.0,501.8 1336.5,510.2 C1343.9,515.0 1349.9,498.2 1358.1,494.9 C1364.8,492.3 1374.5,488.2 1379.6,493.2 C1391.3,504.6 1391.8,523.7 1401.2,537.0 C1406.5,544.6 1415.2,549.2 1422.8,554.4 C1429.6,559.2 1436.1,566.5 1444.4,567.2 C1452.2,567.8 1458.6,560.5 1466.0,557.8 C1473.0,555.4 1480.5,554.3 1487.5,551.9 C1494.9,549.4 1503.1,547.9 1509.1,543.0 C1517.9,535.8 1530.7,516.6 1530.7,516.6" stroke="#ff0000" stroke-width="1.8"/>
<path d="M128.0,653.0 C128.0,653.0 142.4,653.7 149.6,653.7 C156.8,653.7 164.0,653.3 171.2,653.0 C178.4,652.8 185.5,652.3 192.7,652.2 C199.9,652.1 207.1,652.6 214.3,652.4 C221.5,652.3 228.7,651.7 235.9,651.3 C243.1,651.0 250.3,650.5 257.5,650.5 C264.7,650.5 271.9,650.8 279.1,651.3 C286.3,651.9 293.4,653.3 300.6,653.7 C307.8,654.0 315.0,653.5 322.2,653.5 C329.4,653.5 336.6,653.6 343.8,653.7 C351.0,653.8 358.2,654.1 365.4,654.1 C372.6,654.1 379.8,653.7 387.0,653.7 C394.2,653.7 401.3,653.9 408.5,654.1 C415.7,654.2 422.9,654.5 430.1,654.8 C437.3,655.0 444.5,655.4 451.7,655.6 C458.9,655.8 466.1,656.1 473.3,656.0 C480.5,656.0 487.7,655.8 494.9,655.2 C502.1,654.6 509.2,652.9 516.4,652.4 C523.6,652.0 530.8,652.1 538.0,652.4 C545.2,652.7 552.4,653.7 559.6,654.1 C566.8,654.4 574.0,654.5 581.2,654.5 C588.4,654.6 595.6,654.6 602.8,654.5 C610.0,654.5 617.1,654.4 624.3,654.3 C631.5,654.3 638.7,654.3 645.9,654.3 C653.1,654.3 660.3,654.5 667.5,654.3 C674.7,654.1 681.9,653.5 689.1,653.0 C696.3,652.6 703.5,651.8 710.7,651.3 C717.8,650.9 725.0,650.4 732.2,650.1 C739.4,649.8 746.6,649.7 753.8,649.6 C761.0,649.6 768.2,649.5 775.4,649.6 C782.6,649.8 789.8,650.1 797.0,650.5 C804.2,650.9 811.4,651.4 818.6,651.8 C825.8,652.2 832.9,652.8 840.1,653.0 C847.3,653.3 854.5,653.5 861.7,653.0 C869.0,652.6 876.1,650.7 883.3,650.5 C890.5,650.3 897.7,651.8 904.9,651.8 C912.1,651.8 920.2,654.1 926.5,650.5 C935.7,645.1 941.1,634.9 948.0,626.7 C955.5,617.9 962.7,608.7 969.6,599.5 C977.1,589.6 983.7,579.2 991.2,569.3 C998.1,560.3 1003.2,549.1 1012.8,543.0 C1018.8,539.1 1027.9,538.5 1034.4,541.7 C1043.7,546.3 1050.8,555.2 1055.9,564.2 C1065.4,580.7 1066.7,601.3 1077.5,616.9 C1082.0,623.4 1091.4,624.9 1099.1,626.7 C1106.1,628.4 1113.5,626.5 1120.7,627.1 C1127.9,627.8 1135.0,630.4 1142.3,630.5 C1149.5,630.7 1156.6,628.3 1163.8,628.0 C1171.0,627.7 1178.4,630.6 1185.4,628.8 C1193.4,626.8 1200.0,621.3 1207.0,616.9 C1214.4,612.3 1221.1,606.5 1228.6,602.0 C1235.5,597.9 1243.4,595.4 1250.2,591.0 C1257.8,586.1 1266.2,581.6 1271.7,574.4 C1280.8,562.8 1279.0,539.1 1293.3,535.8 C1304.9,533.0 1309.0,553.9 1314.9,564.2 C1323.5,579.4 1325.8,598.1 1336.5,611.8 C1341.2,617.9 1350.6,618.3 1358.1,619.9 C1365.1,621.4 1372.5,620.1 1379.6,621.2 C1387.0,622.3 1394.1,628.7 1401.2,626.7 C1410.1,624.2 1414.2,612.7 1422.8,609.3 C1429.5,606.6 1437.2,609.3 1444.4,609.3 C1451.6,609.3 1459.6,612.6 1466.0,609.3 C1475.2,604.5 1479.5,593.3 1487.5,586.8 C1494.0,581.5 1504.5,581.3 1509.1,574.4 C1519.5,559.0 1530.7,523.0 1530.7,523.0" stroke="#ee1450" stroke-width="1.7"/>
<path d="M128.0,657.3 C128.0,657.3 142.4,657.3 149.6,657.3 C156.8,657.3 164.0,657.3 171.2,657.3 C178.4,657.3 185.5,657.3 192.7,657.3 C199.9,657.3 207.1,657.3 214.3,657.3 C221.5,657.3 228.7,657.3 235.9,657.3 C243.1,657.3 250.3,657.3 257.5,657.3 C264.7,657.3 271.9,657.3 279.1,657.3 C286.3,657.3 293.4,657.3 300.6,657.3 C307.8,657.3 315.0,657.3 322.2,657.3 C329.4,657.3 336.6,657.3 343.8,657.3 C351.0,657.3 358.2,657.3 365.4,657.3 C372.6,657.3 379.8,657.3 387.0,657.3 C394.2,657.3 401.3,657.3 408.5,657.3 C415.7,657.3 422.9,657.3 430.1,657.3 C437.3,657.3 444.5,657.3 451.7,657.3 C458.9,657.3 466.1,657.3 473.3,657.3 C480.5,657.3 487.7,657.3 494.9,657.3 C502.1,657.3 509.2,657.3 516.4,657.3 C523.6,657.3 530.8,657.3 538.0,657.3 C545.2,657.3 552.4,657.3 559.6,657.3 C566.8,657.3 574.0,657.3 581.2,657.3 C588.4,657.3 595.6,657.3 602.8,657.3 C610.0,657.3 617.1,657.3 624.3,657.3 C631.5,657.3 638.7,657.3 645.9,657.3 C653.1,657.3 660.3,657.3 667.5,657.3 C674.7,657.3 681.9,657.3 689.1,657.3 C696.3,657.3 703.5,657.3 710.7,657.3 C717.9,657.3 725.0,657.3 732.2,657.3 C739.4,657.3 746.6,657.3 753.8,657.3 C761.0,657.3 768.2,657.3 775.4,657.3 C782.6,657.3 789.8,657.3 797.0,657.3 C804.2,657.3 811.4,657.3 818.6,657.3 C825.8,657.3 832.9,657.3 840.1,657.3 C847.3,657.3 854.5,657.3 861.7,657.3 C868.9,657.3 876.1,657.3 883.3,657.3 C890.5,657.3 897.7,657.3 904.9,657.3 C912.1,657.3 919.3,657.3 926.5,657.3 C933.7,657.3 940.8,657.3 948.0,657.3 C955.2,657.3 962.4,657.3 969.6,657.3 C976.8,657.3 984.0,657.3 991.2,657.3 C998.4,657.3 1005.6,657.3 1012.8,657.3 C1020.0,657.3 1027.2,657.3 1034.4,657.3 C1041.6,657.3 1048.7,657.3 1055.9,657.3 C1063.1,657.3 1070.3,657.3 1077.5,657.3 C1084.7,657.3 1091.9,657.3 1099.1,657.3 C1106.3,657.3 1113.5,657.3 1120.7,657.3 C1127.9,657.3 1136.9,662.1 1142.3,657.3 C1153.3,647.4 1156.1,631.2 1163.8,618.6 C1170.5,607.7 1181.2,598.9 1185.4,586.8 C1195.7,557.4 1193.9,524.1 1207.0,495.8 C1210.0,489.2 1222.4,497.4 1228.6,493.7 C1237.8,488.2 1244.0,478.7 1250.2,469.9 C1258.5,457.9 1262.9,443.3 1271.7,431.6 C1277.5,424.0 1286.7,406.1 1293.3,412.9 C1308.8,428.8 1308.4,454.6 1314.9,475.8 C1322.8,501.8 1324.0,530.3 1336.5,554.4 C1339.9,561.0 1351.3,556.2 1358.1,559.1 C1365.9,562.5 1371.1,572.1 1379.6,573.1 C1387.4,574.1 1397.2,570.9 1401.2,564.2 C1412.6,545.4 1404.9,514.6 1422.8,501.8 C1433.1,494.3 1434.6,525.0 1444.4,533.2 C1450.0,537.9 1460.3,542.5 1466.0,537.9 C1477.7,528.3 1478.0,509.6 1487.5,497.9 C1492.8,491.5 1502.9,490.7 1509.1,485.2 C1517.5,477.8 1530.7,459.7 1530.7,459.7" stroke="#7a5cff" stroke-width="1.75"/>
<path d="M128.0,643.7 C128.0,643.7 142.4,645.5 149.6,645.4 C156.8,645.3 163.9,643.3 171.2,642.8 C178.3,642.4 185.5,643.0 192.7,642.8 C199.9,642.7 207.1,642.5 214.3,642.0 C221.5,641.5 228.7,640.4 235.9,639.9 C243.1,639.3 250.3,638.8 257.5,638.6 C264.7,638.4 271.9,637.8 279.1,638.6 C286.4,639.5 293.3,642.5 300.6,643.7 C307.8,644.8 315.0,644.8 322.2,645.4 C329.4,646.0 336.6,646.7 343.8,647.1 C351.0,647.5 358.2,647.9 365.4,647.9 C372.6,647.9 379.8,647.2 387.0,647.1 C394.2,647.0 401.4,647.1 408.5,647.5 C415.8,648.0 423.0,648.6 430.1,649.6 C437.4,650.7 444.4,653.0 451.7,653.9 C458.8,654.7 466.1,655.0 473.3,654.8 C480.5,654.5 487.7,653.1 494.9,652.2 C502.1,651.3 509.2,649.7 516.4,649.2 C523.6,648.8 530.8,649.4 538.0,649.6 C545.2,649.9 552.4,650.3 559.6,650.5 C566.8,650.7 574.0,650.9 581.2,650.9 C588.4,650.9 595.6,650.5 602.8,650.5 C610.0,650.5 617.1,650.9 624.3,650.9 C631.5,650.9 638.7,650.4 645.9,650.5 C653.1,650.6 660.4,652.7 667.5,651.3 C675.2,649.9 681.8,645.2 689.1,642.4 C696.2,639.7 703.0,634.3 710.7,634.8 C718.7,635.3 724.5,643.3 732.2,645.4 C739.2,647.2 746.6,645.8 753.8,646.2 C761.0,646.7 768.2,647.7 775.4,647.9 C782.6,648.2 789.8,647.4 797.0,647.5 C804.2,647.7 811.4,648.4 818.6,648.8 C825.8,649.2 832.9,649.4 840.1,649.6 C847.3,649.9 854.5,650.8 861.7,650.5 C869.0,650.2 876.1,648.2 883.3,647.9 C890.5,647.7 897.7,648.4 904.9,648.8 C912.1,649.2 919.3,651.3 926.5,650.5 C933.9,649.7 940.6,645.3 948.0,644.1 C955.1,643.0 962.4,643.9 969.6,643.7 C976.8,643.5 984.0,643.3 991.2,642.8 C998.4,642.4 1005.6,641.2 1012.8,640.7 C1020.0,640.2 1027.2,639.7 1034.4,639.9 C1041.6,640.1 1048.7,641.9 1055.9,642.0 C1063.1,642.1 1070.3,640.4 1077.5,640.7 C1084.8,641.0 1091.8,643.3 1099.1,643.7 C1106.3,644.1 1113.5,642.6 1120.7,642.8 C1127.9,643.1 1135.0,644.8 1142.3,645.0 C1149.5,645.1 1156.6,643.9 1163.8,643.7 C1171.0,643.5 1178.2,644.2 1185.4,643.7 C1192.7,643.2 1199.7,640.7 1207.0,640.7 C1214.3,640.8 1221.3,643.4 1228.6,644.1 C1235.7,644.8 1243.0,645.3 1250.2,645.0 C1257.4,644.6 1264.5,642.6 1271.7,642.0 C1278.9,641.4 1286.1,640.8 1293.3,641.1 C1300.6,641.5 1307.8,642.7 1314.9,644.1 C1322.2,645.6 1329.2,648.4 1336.5,649.6 C1343.6,650.8 1350.9,650.6 1358.1,651.3 C1365.3,652.1 1372.4,653.3 1379.6,653.9 C1386.8,654.5 1394.0,654.9 1401.2,655.2 C1408.4,655.5 1415.6,655.5 1422.8,655.6 C1430.0,655.7 1437.2,655.6 1444.4,655.6 C1451.6,655.6 1458.8,655.6 1466.0,655.6 C1473.2,655.6 1480.3,655.6 1487.5,655.6 C1494.7,655.6 1501.9,655.6 1509.1,655.6 C1516.3,655.6 1530.7,655.6 1530.7,655.6" stroke="#1e1e22" stroke-width="1.7"/>
<path d="M128.0,619.0 C128.0,619.0 142.4,621.7 149.6,621.2 C157.0,620.7 163.9,617.4 171.2,616.1 C178.3,614.7 185.5,613.7 192.7,613.1 C199.9,612.5 207.2,613.9 214.3,612.7 C221.8,611.4 228.4,606.7 235.9,605.4 C243.0,604.3 250.4,604.1 257.5,605.4 C265.1,606.9 271.9,611.1 279.1,613.9 C286.3,616.9 292.9,621.7 300.6,622.9 C307.8,623.9 315.0,620.5 322.2,620.3 C329.4,620.1 336.6,621.5 343.8,621.6 C351.0,621.7 358.2,622.0 365.4,621.2 C372.7,620.3 379.6,616.2 387.0,616.5 C394.5,616.8 401.2,621.1 408.5,622.9 C415.6,624.6 423.6,623.3 430.1,626.7 C438.6,631.1 443.0,641.5 451.7,645.4 C458.3,648.3 466.2,647.3 473.3,645.8 C481.0,644.2 488.1,640.4 494.9,636.5 C502.6,632.0 508.1,623.7 516.4,620.8 C523.2,618.3 530.9,620.0 538.0,621.2 C545.5,622.4 552.2,626.3 559.6,628.0 C566.7,629.6 573.9,630.4 581.2,630.9 C588.4,631.5 595.6,631.7 602.8,631.4 C610.0,631.1 617.2,630.5 624.3,629.2 C631.7,628.0 638.6,624.8 645.9,623.7 C653.0,622.7 660.4,624.1 667.5,622.9 C674.9,621.6 681.9,618.6 689.1,616.5 C696.3,614.4 703.3,611.5 710.7,610.1 C717.8,608.8 725.0,608.9 732.2,608.4 C739.4,608.0 746.6,607.9 753.8,607.6 C761.0,607.3 768.2,606.9 775.4,606.7 C782.6,606.6 789.9,605.3 797.0,606.7 C804.6,608.3 811.0,613.6 818.6,615.6 C825.6,617.5 833.0,617.1 840.1,618.2 C847.4,619.3 854.4,622.6 861.7,622.4 C869.1,622.3 875.9,617.6 883.3,617.3 C890.6,617.1 897.7,619.3 904.9,620.8 C912.2,622.3 919.2,627.8 926.5,626.3 C934.9,624.5 940.3,615.8 948.0,611.8 C954.8,608.3 962.7,607.4 969.6,604.2 C977.1,600.7 984.6,596.8 991.2,591.8 C999.0,586.0 1004.5,577.2 1012.8,571.9 C1019.2,567.8 1026.8,563.3 1034.4,564.2 C1042.7,565.2 1049.1,572.2 1055.9,577.0 C1063.5,582.3 1070.2,588.7 1077.5,594.4 C1084.6,599.9 1090.8,607.1 1099.1,610.5 C1105.8,613.3 1113.5,611.4 1120.7,612.2 C1127.9,613.1 1135.0,616.4 1142.3,615.6 C1149.9,614.9 1156.3,608.9 1163.8,608.0 C1171.0,607.1 1178.9,613.7 1185.4,610.5 C1195.0,605.9 1198.1,592.9 1207.0,587.2 C1213.2,583.2 1221.7,585.4 1228.6,582.9 C1236.2,580.2 1243.2,576.0 1250.2,571.9 C1257.6,567.4 1264.4,561.7 1271.7,557.0 C1278.8,552.5 1285.3,542.0 1293.3,544.2 C1303.9,547.3 1307.7,561.0 1314.9,569.3 C1322.1,577.7 1326.7,589.3 1336.5,594.4 C1342.9,597.8 1350.8,591.6 1358.1,591.8 C1365.4,592.1 1372.3,595.5 1379.6,595.7 C1386.9,595.9 1394.3,595.2 1401.2,593.1 C1408.9,590.9 1414.9,583.4 1422.8,582.9 C1430.4,582.5 1436.8,590.3 1444.4,590.6 C1451.9,590.8 1459.1,587.2 1466.0,584.2 C1473.6,580.9 1479.5,573.7 1487.5,571.9 C1494.6,570.3 1502.6,577.6 1509.1,574.4 C1518.7,569.7 1530.7,550.6 1530.7,550.6" stroke="#1f4dff" stroke-width="4.2"/>
<path d="M1510,657L1532,628.5" stroke="#2f5ec4" stroke-width="1.9" stroke-linecap="butt"/>
</g>
<g fill="none" stroke="url(#g5)">
<path d="M274.4,346.8V401.8H328.1" stroke-width="7.2" stroke-linecap="round" stroke-linejoin="round"/>
</g>
<path d="M284,390L296.2,373.9L310.4,371.5L323.5,355.5" fill="none" stroke="url(#g5)" stroke-width="6.6" stroke-linejoin="round"/>
<path d="M316,351.6L330.4,347.8L329.8,362.4Z" fill="#2352ff" stroke="#2352ff" stroke-width="1" stroke-linejoin="round"/>
<path d="M630.20,391.00L640.30,390.00L640.30,402.70Q640.30,404.30 638.70,404.30L631.80,404.30Q630.20,404.30 630.20,402.70ZM644.80,389.20L655.30,387.00L655.30,402.70Q655.30,404.30 653.70,404.30L646.40,404.30Q644.80,404.30 644.80,402.70ZM659.80,385.50L670.30,380.20L670.30,402.70Q670.30,404.30 668.70,404.30L661.40,404.30Q659.80,404.30 659.80,402.70ZM674.30,377.20L684.80,365.20L684.80,402.70Q684.80,404.30 683.20,404.30L675.90,404.30Q674.30,404.30 674.30,402.70Z" fill="url(#g4)"/>
<path d="M630.3,386.6Q672.5,384 682.2,353" fill="none" stroke="url(#g4)" stroke-width="6" stroke-linecap="round"/>
<path d="M676.6,352.6L682.3,344.2L687.9,352.6Z" fill="#2352ff" stroke="#2352ff" stroke-width="0.8" stroke-linejoin="round"/>
<g font-weight="bold">
<text x="349" y="378.8" font-size="50" fill="#2456f6" textLength="137" lengthAdjust="spacingAndGlyphs">+14%</text>
<text x="348.5" y="400.6" font-size="17.4" fill="#151515" textLength="113.5" lengthAdjust="spacingAndGlyphs">CAGR ‘19-23</text>
<text x="700.5" y="378.8" font-size="50" fill="#2456f6" textLength="167.5" lengthAdjust="spacingAndGlyphs">+168%</text>
<text x="699.7" y="401.6" font-size="17.4" fill="#151515" textLength="315.5" lengthAdjust="spacingAndGlyphs">Годовой прирост (H1`24 vs H1`23)</text>
</g>
<g font-size="6.9" fill="#737373">
<line x1="389.8" y1="713" x2="405.1" y2="713" stroke="#4a148c" stroke-width="1.6"/>
<text x="408.8" y="715.8">Gate</text>
<text x="408.8" y="723.6">7</text>
<line x1="436.2" y1="713" x2="451.5" y2="713" stroke="#9be86e" stroke-width="1.6"/>
<text x="455.2" y="715.8">Ostrovok</text>
<text x="455.2" y="723.6">.ru</text>
<line x1="498.0" y1="713" x2="513.3" y2="713" stroke="#8dab1c" stroke-width="1.6"/>
<text x="517.0" y="715.8">S7 Airlines</text>
<line x1="557.0" y1="713" x2="572.3" y2="713" stroke="#ffb400" stroke-width="1.6"/>
<text x="576.0" y="715.8">OneTwoT</text>
<text x="576.0" y="723.6">rip</text>
<line x1="620.4" y1="713" x2="635.7" y2="713" stroke="#0f6cff" stroke-width="1.6"/>
<text x="639.4" y="715.8">Авиасе</text>
<text x="639.4" y="723.6">йлс</text>
<line x1="681.0" y1="713" x2="696.3" y2="713" stroke="#8a0a14" stroke-width="1.6"/>
<text x="700.0" y="715.8">ЖД билеты онлайн на</text>
<text x="700.0" y="723.6">поезд</text>
<line x1="797.0" y1="713" x2="812.3" y2="713" stroke="#1c1c54" stroke-width="1.6"/>
<text x="816.0" y="715.8">Туту</text>
<text x="816.0" y="723.6">.ру</text>
<line x1="846.6" y1="713" x2="861.9" y2="713" stroke="#33e56a" stroke-width="1.6"/>
<text x="865.6" y="715.8">Купиби</text>
<text x="865.6" y="723.6">лет</text>
<line x1="907.0" y1="713" x2="922.3" y2="713" stroke="#ff0000" stroke-width="1.6"/>
<text x="926.0" y="715.8">РЖД</text>
<line x1="949.3" y1="713" x2="964.6" y2="713" stroke="#ee1450" stroke-width="1.6"/>
<text x="968.3" y="715.8">Суточно</text>
<text x="968.3" y="723.6">.ру</text>
<line x1="1011.0" y1="713" x2="1026.3" y2="713" stroke="#7a5cff" stroke-width="1.6"/>
<text x="1030.0" y="715.8">Я.Путешест</text>
<text x="1030.0" y="723.6">вия</text>
<line x1="1086.0" y1="713" x2="1101.3" y2="713" stroke="#1e1e22" stroke-width="1.6"/>
<text x="1105.0" y="715.8">Яндекс.Авиабил</text>
<text x="1105.0" y="723.6">еты</text>
<line x1="1175.0" y1="713" x2="1190.3" y2="713" stroke="#1f4dff" stroke-width="2.6"/>
<text x="1194.0" y="715.8">Aver</text>
<text x="1194.0" y="723.6">age</text>
</g>
</svg></body></html>
